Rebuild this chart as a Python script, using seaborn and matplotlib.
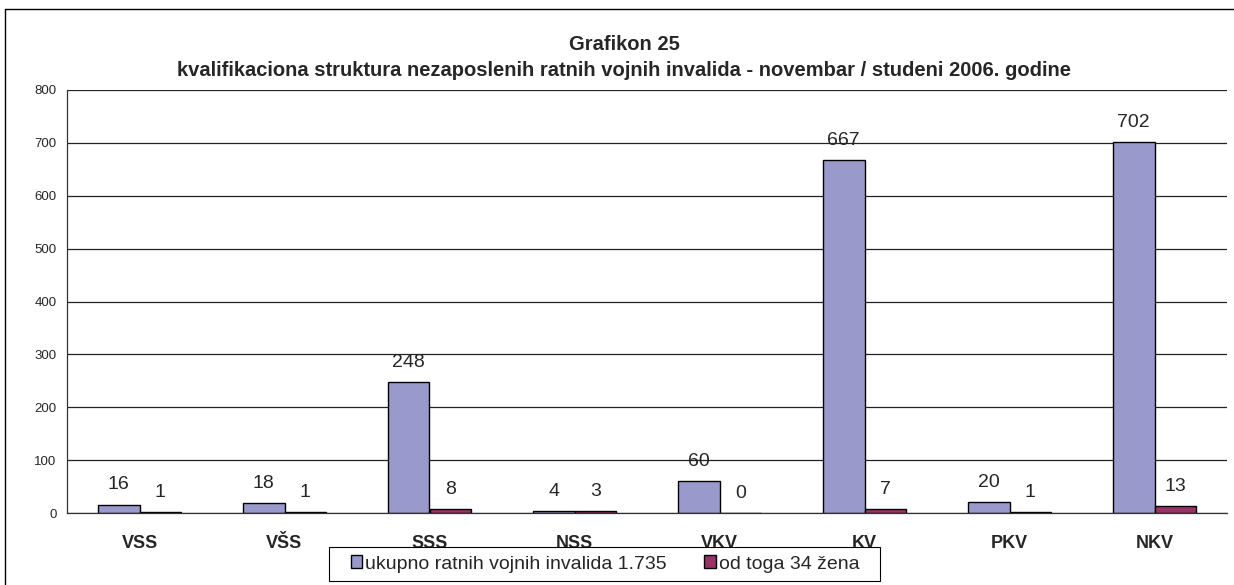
import numpy as np
import pandas as pd
import matplotlib
matplotlib.use("Agg")
import matplotlib.pyplot as plt
from matplotlib.lines import Line2D
from matplotlib.patches import Rectangle
import seaborn as sns

# ── data ─────────────────────────────────────────────
CATEGORIES = ["VSS", "VŠS", "SSS", "NSS", "VKV", "KV", "PKV", "NKV"]
TOTAL      = [16, 18, 248, 4, 60, 667, 20, 702]
WOMEN      = [1, 1, 8, 3, 0, 7, 1, 13]
SERIES     = ["ukupno ratnih vojnih invalida 1.735", "od toga 34 žena"]
Y_TICKS    = [0, 100, 200, 300, 400, 500, 600, 700, 800]
TITLE_1    = "Grafikon 25"
TITLE_2    = ("kvalifikaciona struktura nezaposlenih ratnih vojnih invalida"
              " - novembar / studeni 2006. godine")

COLORS = {SERIES[0]: "#9999CC", SERIES[1]: "#993366"}

df = pd.DataFrame({
    "kat":   CATEGORIES * 2,
    "serija": [SERIES[0]] * len(CATEGORIES) + [SERIES[1]] * len(CATEGORIES),
    "broj":  TOTAL + WOMEN,
})

sns.set_style("white")
plt.rcParams["font.family"] = ["Liberation Sans", "DejaVu Sans"]

W, H = 1234, 585
fig = plt.figure(figsize=(W/100, H/100), dpi=100)
ax = fig.add_axes([67/W, 1-513/H, (1227-67)/W, (513-90)/H])

sns.barplot(data=df, x="kat", y="broj", hue="serija",
            order=CATEGORIES, hue_order=SERIES, palette=COLORS,
            width=2/3.5, edgecolor="black", linewidth=1.0,
            saturation=1, ax=ax)

handles, labels = ax.get_legend_handles_labels()
ax.get_legend().remove()

for cont in ax.containers:
    ax.bar_label(cont, fontsize=14, padding=8)

ax.set_ylim(0, 800)
ax.set_xlim(-0.5, len(CATEGORIES) - 0.5)
ax.set_yticks(Y_TICKS)
ax.set_yticklabels([str(v) for v in Y_TICKS], fontsize=9.5)
ax.yaxis.grid(True, color="#222222", linewidth=0.9)
ax.set_axisbelow(True)
ax.set_xlabel("")
ax.set_ylabel("")

ax.set_xticks(np.arange(len(CATEGORIES)))
ax.set_xticklabels(CATEGORIES, fontsize=13, fontweight="bold")
ax.set_xticks(np.arange(len(CATEGORIES) + 1) - 0.5, minor=True)
ax.tick_params(axis="x", which="major", length=0, pad=16)
ax.tick_params(axis="x", which="minor", length=4.5, width=0.8,
               color="#333333", direction="out")
ax.tick_params(axis="y", length=4.5, width=0.8, color="#333333",
               direction="out", pad=3)

for s in ["top", "right"]:
    ax.spines[s].set_visible(False)
for s in ["left", "bottom"]:
    ax.spines[s].set_color("#333333")
    ax.spines[s].set_linewidth(0.9)

fig.text(624/W, 1-45/H, TITLE_1, ha="center", va="center",
         fontsize=14.5, fontweight="bold")
fig.text(624/W, 1-70/H, TITLE_2, ha="center", va="center",
         fontsize=14.5, fontweight="bold")

# legend box drawn separately (wider side padding than matplotlib allows)
fig.add_artist(Rectangle((329/W, 1-581/H), (880-329)/W, (581-547)/H,
                         transform=fig.transFigure, facecolor="white",
                         edgecolor="black", linewidth=0.8, zorder=3))
leg = fig.legend(handles, labels, loc="center", ncol=2,
                 bbox_to_anchor=(605/W, 1-564/H),
                 fontsize=14, frameon=False,
                 handlelength=0.6, handleheight=0.6,
                 handletextpad=0.15, columnspacing=1.9, borderpad=0.2,
                 borderaxespad=0)
leg.set_zorder(4)
for p in leg.get_patches():
    p.set_edgecolor("black")
    p.set_linewidth(1.0)

# outer frame
fig.add_artist(Line2D([5/W, 5/W], [0, 1-9/H],
                      transform=fig.transFigure, color="black", lw=1.0))
fig.add_artist(Line2D([5/W, 1], [1-9/H, 1-9/H],
                      transform=fig.transFigure, color="black", lw=1.0))

fig.savefig("out.png", dpi=100)
